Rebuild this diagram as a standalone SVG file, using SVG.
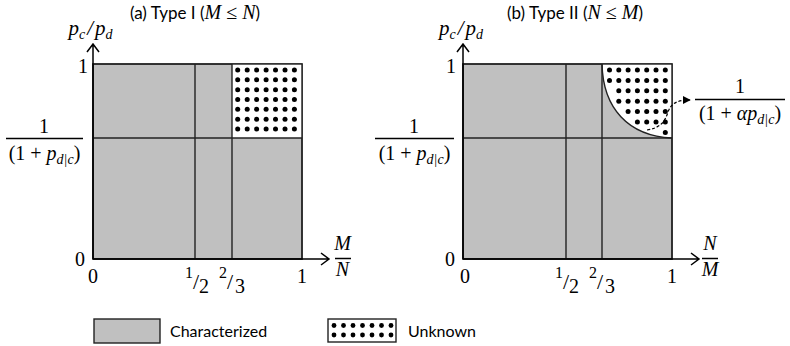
<svg xmlns="http://www.w3.org/2000/svg" width="790" height="346" viewBox="0 0 790 346">
<defs>
<style>
.box{fill:#c0c0c0;stroke:#222;stroke-width:1.4}
.ln{stroke:#222;stroke-width:1.4;fill:none}
.ax{stroke:#000;stroke-width:1.5;fill:none}
.t{font-family:Lato,"Liberation Sans",sans-serif;font-size:17px;fill:#000}
.m{font-family:"Liberation Serif","DejaVu Serif",serif;font-size:20px;fill:#000}
.mi{font-family:"Liberation Serif","DejaVu Serif",serif;font-size:20px;font-style:italic;fill:#000}
.s{font-size:14px}
.dot circle{fill:#000}
</style>
<marker id="ah" viewBox="0 0 10 10" refX="9" refY="5" markerWidth="8" markerHeight="8" orient="auto" markerUnits="userSpaceOnUse">
<path d="M0,0 L10,5 L0,10 Z" fill="#000"/>
</marker>
</defs>
<rect width="790" height="346" fill="#fff"/>

<!-- Plot (a) -->
<g id="plot-a">
<text class="t" x="195" y="19" text-anchor="middle">(a) Type I (<tspan class="mi">M</tspan><tspan class="m"> ≤ </tspan><tspan class="mi">N</tspan>)</text>
<rect class="box" x="93" y="64" width="209" height="195"/>
<rect x="232" y="64" width="70" height="74" fill="#fff"/>
<g id="dots-a" class="dot">
<circle cx="237.7" cy="70" r="2.5"/><circle cx="247.2" cy="70" r="2.5"/><circle cx="256.6" cy="70" r="2.5"/><circle cx="266.1" cy="70" r="2.5"/><circle cx="275.5" cy="70" r="2.5"/><circle cx="285" cy="70" r="2.5"/><circle cx="294.4" cy="70" r="2.5"/>
<circle cx="237.7" cy="79.8" r="2.5"/><circle cx="247.2" cy="79.8" r="2.5"/><circle cx="256.6" cy="79.8" r="2.5"/><circle cx="266.1" cy="79.8" r="2.5"/><circle cx="275.5" cy="79.8" r="2.5"/><circle cx="285" cy="79.8" r="2.5"/><circle cx="294.4" cy="79.8" r="2.5"/>
<circle cx="237.7" cy="89.7" r="2.5"/><circle cx="247.2" cy="89.7" r="2.5"/><circle cx="256.6" cy="89.7" r="2.5"/><circle cx="266.1" cy="89.7" r="2.5"/><circle cx="275.5" cy="89.7" r="2.5"/><circle cx="285" cy="89.7" r="2.5"/><circle cx="294.4" cy="89.7" r="2.5"/>
<circle cx="237.7" cy="99.5" r="2.5"/><circle cx="247.2" cy="99.5" r="2.5"/><circle cx="256.6" cy="99.5" r="2.5"/><circle cx="266.1" cy="99.5" r="2.5"/><circle cx="275.5" cy="99.5" r="2.5"/><circle cx="285" cy="99.5" r="2.5"/><circle cx="294.4" cy="99.5" r="2.5"/>
<circle cx="237.7" cy="109.3" r="2.5"/><circle cx="247.2" cy="109.3" r="2.5"/><circle cx="256.6" cy="109.3" r="2.5"/><circle cx="266.1" cy="109.3" r="2.5"/><circle cx="275.5" cy="109.3" r="2.5"/><circle cx="285" cy="109.3" r="2.5"/><circle cx="294.4" cy="109.3" r="2.5"/>
<circle cx="237.7" cy="119.2" r="2.5"/><circle cx="247.2" cy="119.2" r="2.5"/><circle cx="256.6" cy="119.2" r="2.5"/><circle cx="266.1" cy="119.2" r="2.5"/><circle cx="275.5" cy="119.2" r="2.5"/><circle cx="285" cy="119.2" r="2.5"/><circle cx="294.4" cy="119.2" r="2.5"/>
<circle cx="237.7" cy="129" r="2.5"/><circle cx="247.2" cy="129" r="2.5"/><circle cx="256.6" cy="129" r="2.5"/><circle cx="266.1" cy="129" r="2.5"/><circle cx="275.5" cy="129" r="2.5"/><circle cx="285" cy="129" r="2.5"/><circle cx="294.4" cy="129" r="2.5"/>
</g>
<rect x="93" y="64" width="209" height="195" class="ln"/>
<line class="ln" x1="195" y1="64" x2="195" y2="259"/>
<line class="ln" x1="232" y1="64" x2="232" y2="259"/>
<line class="ln" x1="93" y1="138" x2="302" y2="138"/>
<path class="ax" d="M93,259 V44 M87,52 L93,44 L99,52"/>
<path class="ax" d="M93,259 H329 M321,253 L329,259 L321,265"/>
<text class="mi" x="90.5" y="35" text-anchor="middle" style="font-size:21px">p<tspan class="s" dy="4">c</tspan><tspan dy="-4" dx="2" style="font-size:21px">/</tspan><tspan dx="2" style="font-size:21px">p</tspan><tspan class="s" dy="4">d</tspan></text>
<text class="m" x="88" y="73" text-anchor="end">1</text>
<text class="m" x="85" y="266" text-anchor="end">0</text>
<text class="m" x="44" y="133" text-anchor="middle">1</text>
<line class="ax" x1="6" y1="138.5" x2="83" y2="138.5"/>
<text class="m" x="44.5" y="160" text-anchor="middle">(1 + <tspan class="mi">p</tspan><tspan class="mi s" dy="4">d|c</tspan><tspan dy="-4">)</tspan></text>
<text class="m" x="93" y="283" text-anchor="middle">0</text>
<text class="m" x="189" y="278" text-anchor="middle" style="font-size:16px">1</text>
<text class="m" x="196" y="289" text-anchor="middle" style="font-size:22px">/</text>
<text class="m" x="204" y="293" text-anchor="middle">2</text>
<text class="m" x="223" y="278" text-anchor="middle" style="font-size:16px">2</text>
<text class="m" x="230" y="289" text-anchor="middle" style="font-size:22px">/</text>
<text class="m" x="240" y="293" text-anchor="middle">3</text>
<text class="m" x="302" y="283" text-anchor="middle">1</text>
<text class="mi" x="342.5" y="250" text-anchor="middle">M</text>
<line class="ax" x1="335" y1="258.5" x2="351" y2="258.5"/>
<text class="mi" x="342.5" y="276" text-anchor="middle">N</text>
</g>

<!-- Plot (b) -->
<g id="plot-b">
<text class="t" x="575" y="19" text-anchor="middle">(b) Type II (<tspan class="mi">N</tspan><tspan class="m"> ≤ </tspan><tspan class="mi">M</tspan>)</text>
<rect class="box" x="463" y="64" width="209" height="195"/>
<path d="M602,64 C603,108 628,136 672,138 L672,64 Z" fill="#fff"/>
<g id="dots-b" class="dot">
<circle cx="609.5" cy="70" r="2.5"/><circle cx="618.8" cy="70" r="2.5"/><circle cx="628.1" cy="70" r="2.5"/><circle cx="637.4" cy="70" r="2.5"/><circle cx="646.7" cy="70" r="2.5"/><circle cx="656" cy="70" r="2.5"/><circle cx="665.3" cy="70" r="2.5"/>
<circle cx="609.5" cy="80.4" r="2.5"/><circle cx="618.8" cy="80.4" r="2.5"/><circle cx="628.1" cy="80.4" r="2.5"/><circle cx="637.4" cy="80.4" r="2.5"/><circle cx="646.7" cy="80.4" r="2.5"/><circle cx="656" cy="80.4" r="2.5"/><circle cx="665.3" cy="80.4" r="2.5"/>
<circle cx="618.8" cy="90.8" r="2.5"/><circle cx="628.1" cy="90.8" r="2.5"/><circle cx="637.4" cy="90.8" r="2.5"/><circle cx="646.7" cy="90.8" r="2.5"/><circle cx="656" cy="90.8" r="2.5"/><circle cx="665.3" cy="90.8" r="2.5"/>
<circle cx="618.8" cy="101.2" r="2.5"/><circle cx="628.1" cy="101.2" r="2.5"/><circle cx="637.4" cy="101.2" r="2.5"/><circle cx="646.7" cy="101.2" r="2.5"/><circle cx="656" cy="101.2" r="2.5"/><circle cx="665.3" cy="101.2" r="2.5"/>
<circle cx="628.1" cy="111.6" r="2.5"/><circle cx="637.4" cy="111.6" r="2.5"/><circle cx="646.7" cy="111.6" r="2.5"/><circle cx="656" cy="111.6" r="2.5"/><circle cx="665.3" cy="111.6" r="2.5"/>
<circle cx="637.4" cy="122" r="2.5"/><circle cx="646.7" cy="122" r="2.5"/><circle cx="656" cy="122" r="2.5"/><circle cx="665.3" cy="122" r="2.5"/>
<circle cx="665.3" cy="132.5" r="2.5"/>
</g>
<path class="ln" d="M602,64 C603,108 628,136 672,138"/>
<rect x="463" y="64" width="209" height="195" class="ln"/>
<line class="ln" x1="566" y1="64" x2="566" y2="259"/>
<line class="ln" x1="602" y1="64" x2="602" y2="259"/>
<line class="ln" x1="463" y1="138" x2="672" y2="138"/>
<path class="ax" d="M463,259 V44 M457,52 L463,44 L469,52"/>
<path class="ax" d="M463,259 H699 M691,253 L699,259 L691,265"/>
<text class="mi" x="461" y="35" text-anchor="middle" style="font-size:21px">p<tspan class="s" dy="4">c</tspan><tspan dy="-4" dx="2" style="font-size:21px">/</tspan><tspan dx="2" style="font-size:21px">p</tspan><tspan class="s" dy="4">d</tspan></text>
<text class="m" x="456" y="73" text-anchor="end">1</text>
<text class="m" x="455" y="266" text-anchor="end">0</text>
<text class="m" x="414" y="133" text-anchor="middle">1</text>
<line class="ax" x1="375" y1="138.5" x2="454" y2="138.5"/>
<text class="m" x="414.5" y="160" text-anchor="middle">(1 + <tspan class="mi">p</tspan><tspan class="mi s" dy="4">d|c</tspan><tspan dy="-4">)</tspan></text>
<text class="m" x="465" y="283" text-anchor="middle">0</text>
<text class="m" x="559" y="278" text-anchor="middle" style="font-size:16px">1</text>
<text class="m" x="566" y="289" text-anchor="middle" style="font-size:22px">/</text>
<text class="m" x="574" y="293" text-anchor="middle">2</text>
<text class="m" x="593" y="278" text-anchor="middle" style="font-size:16px">2</text>
<text class="m" x="600" y="289" text-anchor="middle" style="font-size:22px">/</text>
<text class="m" x="610" y="293" text-anchor="middle">3</text>
<text class="m" x="672" y="283" text-anchor="middle">1</text>
<text class="mi" x="710" y="250" text-anchor="middle">N</text>
<line class="ax" x1="702" y1="258.5" x2="718" y2="258.5"/>
<text class="mi" x="710" y="276" text-anchor="middle">M</text>
<text class="m" x="740" y="93" text-anchor="middle">1</text>
<line class="ax" x1="695" y1="99.5" x2="785" y2="99.5"/>
<text class="m" x="740" y="120" text-anchor="middle">(1 + <tspan class="mi">αp</tspan><tspan class="mi s" dy="4">d|c</tspan><tspan dy="-4">)</tspan></text>
</g>

<g id="connectors">
<path d="M647,130 C660,128 665,122 668,112 C671,103 678,100 690,100" fill="none" stroke="#000" stroke-width="1.2" stroke-dasharray="3,2" marker-end="url(#ah)"/>
</g>

<!-- Legend -->
<g id="legend-characterized">
<rect x="94" y="319" width="66" height="24" fill="#c0c0c0" stroke="#222" stroke-width="1.4"/>
<text class="t" x="170" y="337" style="font-size:16px">Characterized</text>
</g>
<g id="legend-unknown">
<rect x="328" y="319" width="68" height="23" fill="#fff" stroke="#222" stroke-width="1.4"/>
<g class="dot">
<circle cx="334" cy="325.5" r="2.4"/><circle cx="343.5" cy="325.5" r="2.4"/><circle cx="353" cy="325.5" r="2.4"/><circle cx="362.5" cy="325.5" r="2.4"/><circle cx="372" cy="325.5" r="2.4"/><circle cx="381.5" cy="325.5" r="2.4"/><circle cx="391" cy="325.5" r="2.4"/>
<circle cx="334" cy="335" r="2.4"/><circle cx="343.5" cy="335" r="2.4"/><circle cx="353" cy="335" r="2.4"/><circle cx="362.5" cy="335" r="2.4"/><circle cx="372" cy="335" r="2.4"/><circle cx="381.5" cy="335" r="2.4"/><circle cx="391" cy="335" r="2.4"/>
</g>
<text class="t" x="408" y="337" style="font-size:16px">Unknown</text>
</g>
</svg>
